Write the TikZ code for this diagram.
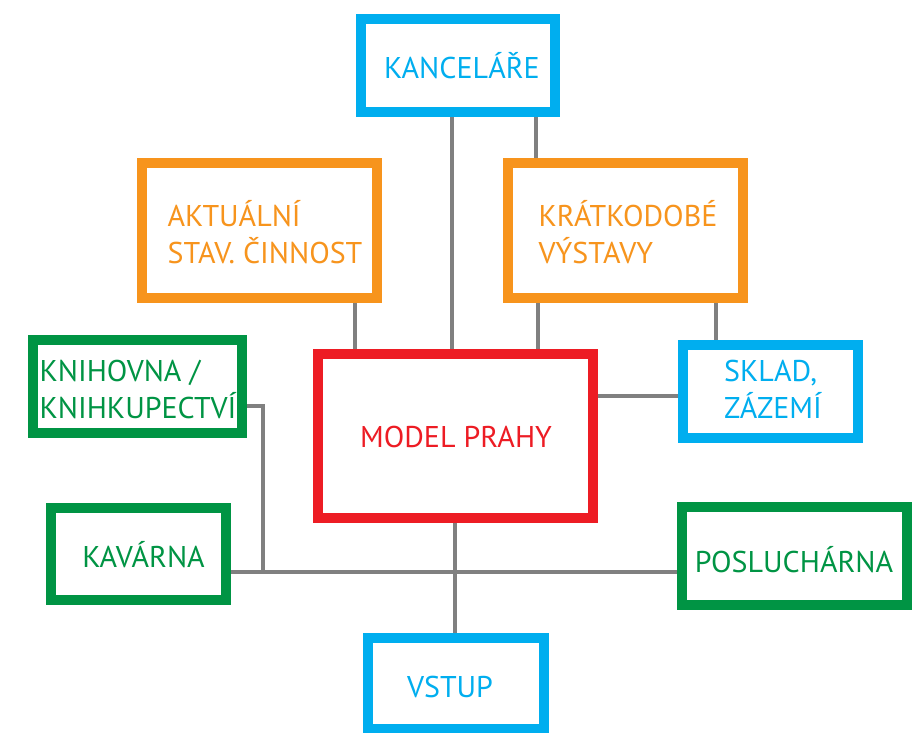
\documentclass[tikz,border=0pt]{standalone}
\usepackage{fontspec}
\setmainfont{PT Sans}
\usetikzlibrary{backgrounds,calc}
\definecolor{cblue}{RGB}{0,174,239}
\definecolor{corange}{RGB}{247,148,29}
\definecolor{cgreen}{RGB}{0,148,68}
\definecolor{cred}{RGB}{237,28,36}
\definecolor{cgray}{RGB}{128,128,128}
\tikzset{
  room/.style={draw, fill=white, line width=10pt, inner sep=0pt},
  bluebox/.style={room, draw=cblue},
  orangebox/.style={room, draw=corange},
  greenbox/.style={room, draw=cgreen},
  redbox/.style={room, draw=cred},
  label/.style={font=\fontsize{30}{37}\selectfont, align=left, inner sep=0pt},
  link/.style={draw=cgray, line width=4.5pt}
}
\begin{document}
\begin{tikzpicture}[x=1pt,y=-1pt]
\useasboundingbox (0,0) rectangle (912,732);
\clip (0,0) rectangle (912,732);
\node[bluebox, minimum width=194pt, minimum height=93pt] (kanc) at (458,65.5) {};
\node[label, text=cblue] (kanct) at (462,66) {KANCELÁŘE};
\node[orangebox, minimum width=235pt, minimum height=135pt] (akt) at (259.5,230.5) {};
\node[label, text=corange] (aktt) at (265,232) {AKTUÁLNÍ\\STAV. ČINNOST};
\node[orangebox, minimum width=235pt, minimum height=135pt] (krat) at (625.5,230.5) {};
\node[label, text=corange] (kratt) at (628,232) {KRÁTKODOBÉ\\VÝSTAVY};
\node[greenbox, minimum width=209pt, minimum height=93pt] (knih) at (137.5,386.5) {};
\node[label, text=cgreen] (kniht) at (138,389) {KNIHOVNA /\\KNIHKUPECTVÍ};
\node[redbox, minimum width=275pt, minimum height=164pt] (model) at (455.5,436) {};
\node[label, text=cred] (modelt) at (456,437) {MODEL PRAHY};
\node[bluebox, minimum width=175pt, minimum height=93pt] (sklad) at (770.5,391.5) {};
\node[label, text=cblue] (skladt) at (773,389) {SKLAD,\\ZÁZEMÍ};
\node[greenbox, minimum width=175pt, minimum height=92pt] (kav) at (138.5,554) {};
\node[label, text=cgreen] (kavt) at (143.5,555) {KAVÁRNA};
\node[greenbox, minimum width=225pt, minimum height=98pt] (posl) at (794.5,556) {};
\node[label, text=cgreen] (poslt) at (794,560) {POSLUCHÁRNA};
\node[bluebox, minimum width=176pt, minimum height=91pt] (vstup) at (456,683.5) {};
\node[label, text=cblue] (vstupt) at (450,687) {VSTUP};
\coordinate (knihturn) at (263,406);
\coordinate (junction) at (263,572);
\begin{scope}[on background layer]
\draw[link] (452,0 |- kanc.south) -- (452,0 |- model.north);
\draw[link] (536,0 |- kanc.south) -- (536,0 |- krat.north);
\draw[link] (355,0 |- akt.south) -- (355,0 |- model.north);
\draw[link] (538,0 |- krat.south) -- (538,0 |- model.north);
\draw[link] (716,0 |- krat.south) -- (716,0 |- sklad.north);
\draw[link] (model.east |- 0,396) -- (sklad.west |- 0,396);
\draw[link] (knih.east |- knihturn) -- (knihturn) -- (junction);
\draw[link] (kav.east |- junction) -- (posl.west |- junction);
\draw[link] (455,0 |- model.south) -- (455,0 |- vstup.north);
\end{scope}
\end{tikzpicture}
\end{document}
